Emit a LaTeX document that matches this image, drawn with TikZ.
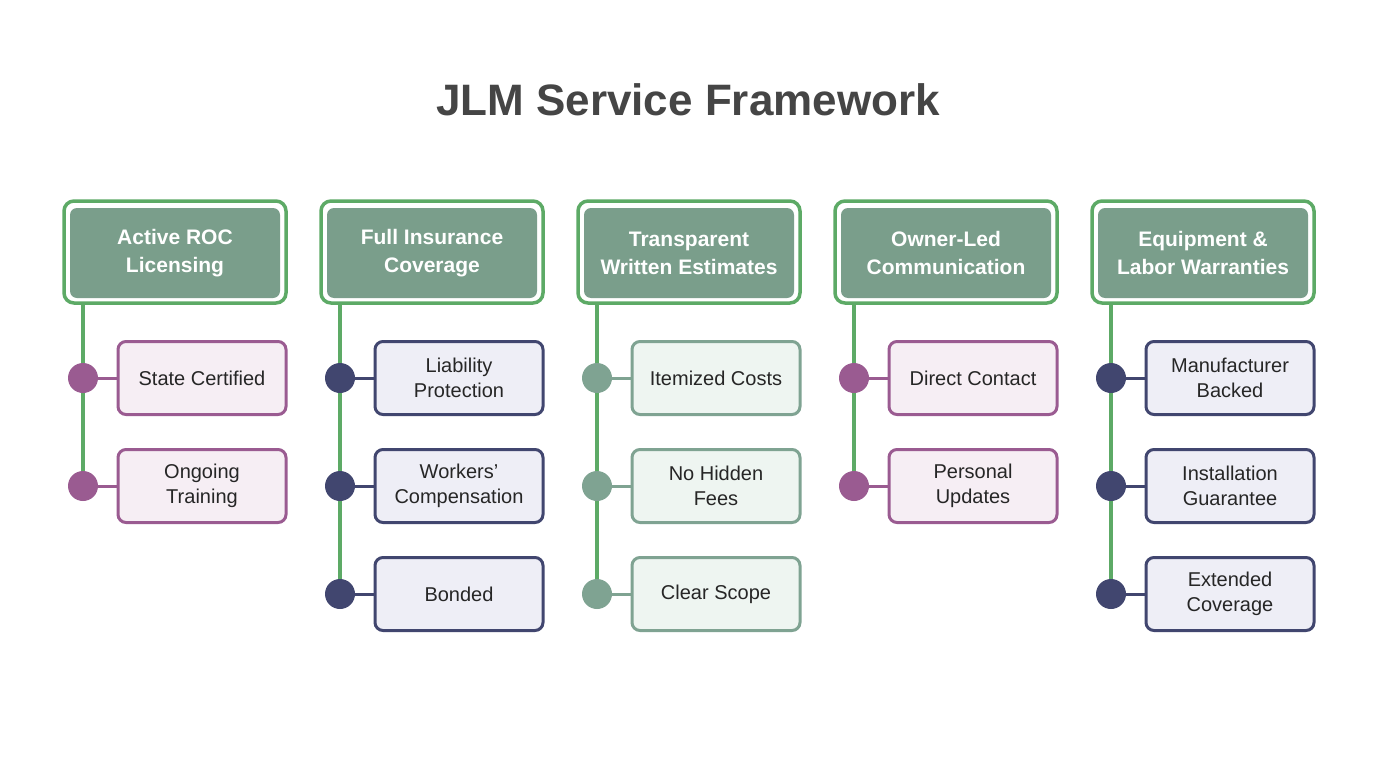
\documentclass[tikz,border=0pt]{standalone}
\usepackage{fontspec}
\setmainfont{Liberation Sans}
\definecolor{hdr}{HTML}{7A9E8B}
\definecolor{grn}{HTML}{5DAA66}
\definecolor{pur}{HTML}{9A5B91}
\definecolor{purf}{HTML}{F6EEF4}
\definecolor{nav}{HTML}{41466F}
\definecolor{navf}{HTML}{EEEEF6}
\definecolor{sag}{HTML}{7FA392}
\definecolor{sagf}{HTML}{EEF5F1}
\definecolor{ttl}{HTML}{454545}
\begin{document}
\begin{tikzpicture}[x=1pt,y=-1pt,
  outer/.style={draw=grn,line width=3.5pt,rounded corners=10pt,fill=white,minimum width=222pt,minimum height=102pt},
  inner/.style={fill=hdr,rounded corners=7pt,minimum width=210pt,minimum height=90pt,text=white,font=\bfseries\fontsize{21}{28}\selectfont,align=center},
  child/.style={draw=#1,line width=3pt,rounded corners=8pt,minimum width=168pt,minimum height=73pt,align=center,font=\fontsize{20}{25}\selectfont,text=black!85},
  dot/.style={circle,fill=#1,minimum size=30pt,inner sep=0pt},
  spine/.style={draw=grn,line width=4pt},
  link/.style={draw=#1,line width=3pt}]
\useasboundingbox[fill=white] (0,0) rectangle (1376,768);
\node[font=\bfseries\fontsize{44}{50}\selectfont,text=ttl] (title) at (688,100) {JLM Service Framework};
\newcommand\col[6]{%
 \node[outer] (#1o) at (#2+113,252) {};
 \node[inner] (#1h) at (#2+113,253) {#3};
 \coordinate (#1top) at (#2+21,305);
 \foreach \t [count=\i] in {#6} {
   \node[child=#4,fill=#5] (#1c\i) at (#2+140,270+108*\i) {\t};
   \coordinate (#1p\i) at (#2+21,270+108*\i);
   \xdef\last{\i}
 }
 \path[spine] (#1top) -- (#1p\last);
 \foreach \i in {1,...,\last} {
   \path[link=#4] (#1p\i) -- (#1c\i.west);
   \node[dot=#4] (#1d\i) at (#1p\i) {};
 }
}
\col{a}{62}{Active ROC\\Licensing}{pur}{purf}{State Certified,{Ongoing\\Training}}
\col{b}{319}{Full Insurance\\Coverage}{nav}{navf}{{Liability\\Protection},{Workers\char"27\\Compensation},Bonded}
\col{c}{576}{Transparent\\Written Estimates}{sag}{sagf}{Itemized Costs,{No Hidden\\Fees},Clear Scope}
\col{d}{833}{Owner-Led\\Communication}{pur}{purf}{Direct Contact,{Personal\\Updates}}
\col{e}{1090}{Equipment \&\\Labor Warranties}{nav}{navf}{{Manufacturer\\Backed},{Installation\\Guarantee},{Extended\\Coverage}}
\end{tikzpicture}
\end{document}
